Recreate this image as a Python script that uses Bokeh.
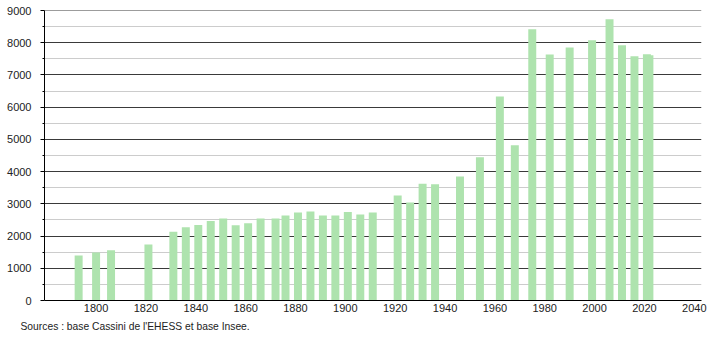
from bokeh.plotting import figure
from bokeh.models import Range1d, FixedTicker, Title, ColumnDataSource, Grid, Span
from bokeh.embed import file_html
from bokeh.resources import INLINE

years = [1793, 1800, 1806, 1821, 1831, 1836, 1841, 1846, 1851, 1856, 1861, 1866,
         1872, 1876, 1881, 1886, 1891, 1896, 1901, 1906, 1911, 1921, 1926, 1931,
         1936, 1946, 1954, 1962, 1968, 1975, 1982, 1990, 1999, 2006, 2011, 2016,
         2021, 2022]
population = [1400, 1490, 1560, 1740, 2130, 2275, 2340, 2470, 2545, 2335, 2395, 2545,
              2545, 2640, 2730, 2765, 2640, 2640, 2750, 2670, 2730, 3258, 3040, 3625,
              3610, 3848, 4447, 6330, 4815, 8420, 7633, 7851, 8078, 8730, 7923, 7582,
              7644, 7610]
x_ticks = [1800, 1820, 1840, 1860, 1880, 1900, 1920, 1940, 1960, 1980, 2000, 2020, 2040]
y_ticks = [0, 1000, 2000, 3000, 4000, 5000, 6000, 7000, 8000, 9000]
y_minor = [500, 1500, 2500, 3500, 4500, 5500, 6500, 7500, 8500]
source_text = "Sources : base Cassini de l'EHESS et base Insee."

FONT = "Liberation Sans"

p = figure(width=710, height=340, output_backend="svg", toolbar_location=None,
           x_range=Range1d(1779.3, 2042.9), y_range=Range1d(0, 9000),
           min_border_left=44, min_border_right=9, min_border_top=10,
           min_border_bottom=40)
p.outline_line_color = None
p.background_fill_color = "white"
p.border_fill_color = "white"

# grids
p.xgrid.grid_line_color = None
p.ygrid.visible = False
minor_grid = Grid(dimension=1, ticker=FixedTicker(ticks=y_minor),
                  grid_line_color="#cccccc", grid_line_width=1, level="underlay")
major_grid = Grid(dimension=1, ticker=FixedTicker(ticks=y_ticks),
                  grid_line_color="#3a3a3a", grid_line_width=1, level="underlay")
p.add_layout(minor_grid)
p.add_layout(major_grid)
p.add_layout(Span(location=y_ticks[-1], dimension="width", line_color="#3a3a3a",
                  line_width=1, level="underlay"))

src = ColumnDataSource(dict(x=years, top=population))
p.vbar(x="x", top="top", width=3.2, bottom=0, source=src,
       fill_color="#aee3ae", line_color=None)

# y axis
yax = p.yaxis[0]
yax.ticker = FixedTicker(ticks=y_ticks, minor_ticks=y_minor)
yax.axis_line_color = "black"
yax.major_tick_in = 0
yax.major_tick_out = 4
yax.minor_tick_in = 0
yax.minor_tick_out = 2
yax.major_tick_line_color = "black"
yax.minor_tick_line_color = "black"
yax.major_label_standoff = 9
yax.major_label_text_font = FONT
yax.major_label_text_font_size = "11px"
yax.major_label_text_color = "#222222"

# x axis
xax = p.xaxis[0]
xax.ticker = FixedTicker(ticks=x_ticks)
xax.axis_line_color = "black"
xax.major_tick_in = 0
xax.major_tick_out = 0
xax.minor_tick_in = 0
xax.minor_tick_out = 0
xax.major_tick_line_color = None
xax.minor_tick_line_color = None
xax.major_label_standoff = 3
xax.major_label_text_font = FONT
xax.major_label_text_font_size = "11px"
xax.major_label_text_color = "#222222"

note = Title(text=source_text, align="left", offset=-24, standoff=9,
             text_font=FONT, text_font_size="10.3px", text_color="#222222",
             text_font_style="normal")
p.add_layout(note, "below")

open("out.html", "w").write(file_html(p, INLINE))
